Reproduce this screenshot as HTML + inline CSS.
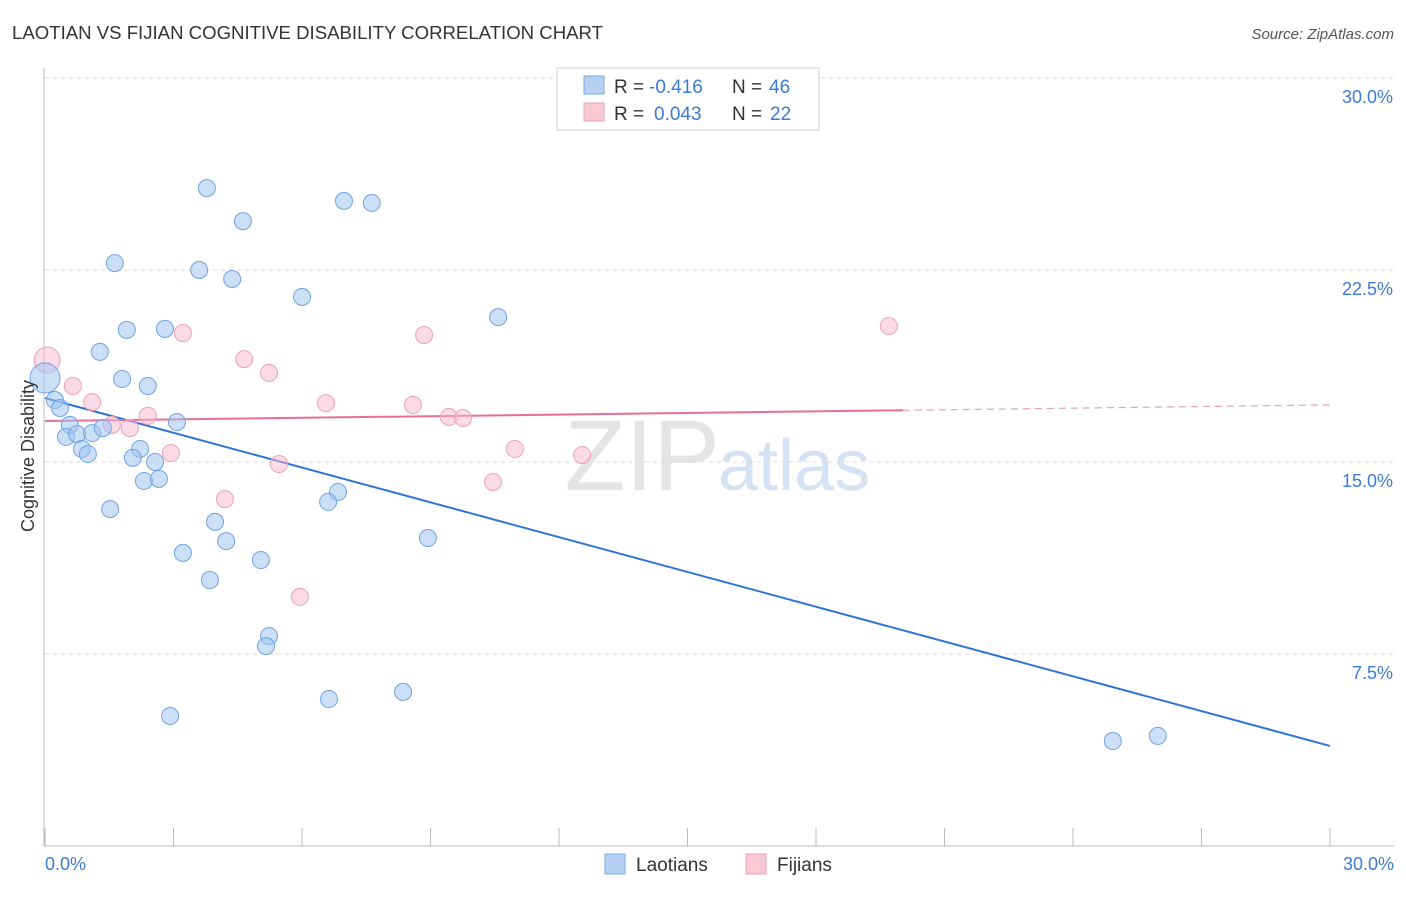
<!DOCTYPE html>
<html><head><meta charset="utf-8"><style>
body{margin:0;background:#fff;font-family:"Liberation Sans",sans-serif;}
svg text{font-family:"Liberation Sans",sans-serif;}
</style></head><body>
<svg id="chart" width="1406" height="892">
<text x="12" y="39" font-size="18.6" fill="#333">LAOTIAN VS FIJIAN COGNITIVE DISABILITY CORRELATION CHART</text>
<text x="1394" y="39" font-size="15" fill="#555" font-style="italic" text-anchor="end">Source: ZipAtlas.com</text>
<text x="720" y="490" font-size="100" fill="#e4e4e4" text-anchor="end" font-family="Liberation Serif">ZIP</text>
<text x="718" y="490" font-size="72" fill="#d5e2f3">atlas</text>
<g id="grid"></g>
<g id="axes"></g>
<g id="trends"></g>
<g id="points"></g>
<text x="34" y="456" font-size="18" fill="#333" text-anchor="middle" transform="rotate(-90 34 456)">Cognitive Disability</text>
<text x="45" y="870" font-size="18" fill="#3d7ad6">0.0%</text>
<text x="1394" y="870" font-size="18" fill="#3d7ad6" text-anchor="end">30.0%</text>
<g>
<rect x="557" y="68" width="262" height="62" fill="#fff" stroke="#ccc"/>
<rect x="584" y="76" width="20" height="18" fill="#b5d0f3" stroke="#7aaae6"/>
<rect x="584" y="103" width="20" height="18" fill="#f9c9d6" stroke="#f0a0b8"/>
<text x="614" y="93" font-size="19" fill="#333">R =</text>
<text x="649" y="93" font-size="19" fill="#3d7ad6">-0.416</text>
<text x="732" y="93" font-size="19" fill="#333">N =</text>
<text x="769" y="93" font-size="19" fill="#3d7ad6">46</text>
<text x="614" y="120" font-size="19" fill="#333">R =</text>
<text x="654" y="120" font-size="19" fill="#3d7ad6">0.043</text>
<text x="732" y="120" font-size="19" fill="#333">N =</text>
<text x="770" y="120" font-size="19" fill="#3d7ad6">22</text>
</g>
<g><rect x="605" y="854" width="20" height="20" fill="#b5d0f3" stroke="#7aaae6"/><text x="636" y="871" font-size="19" fill="#333">Laotians</text></g>
<g><rect x="746" y="854" width="20" height="20" fill="#f9c9d6" stroke="#f0a0b8"/><text x="777" y="871" font-size="19" fill="#333">Fijians</text></g>
</svg>
<script>
const yTicks=[7.5,15,22.5,30];
const yTickLabels=["7.5%","15.0%","22.5%","30.0%"];
const xTicks=[0,3,6,9,12,15,18,21,24,27,30];
const laoX=[3.78,4.62,6.98,7.63,1.63,3.60,4.37,6.00,1.91,2.80,10.58,1.28,1.80,2.40,0.23,0.35,0.58,0.49,0.75,1.10,1.35,3.08,0.86,1.00,2.22,2.05,2.57,2.31,2.66,6.84,6.61,1.52,3.97,4.23,8.94,3.22,5.04,3.85,5.23,5.16,8.36,6.63,2.92,24.93,25.98];
const laoY=[25.70,24.41,25.20,25.12,22.77,22.50,22.15,21.45,20.16,20.20,20.66,19.30,18.24,17.97,17.42,17.11,16.45,15.98,16.09,16.13,16.33,16.56,15.51,15.31,15.51,15.16,15.00,14.26,14.34,13.83,13.44,13.16,12.66,11.91,12.03,11.45,11.17,10.39,8.20,7.81,6.02,5.74,5.08,4.10,4.30];
const fijX=[0.65,1.10,1.56,1.98,2.40,3.22,4.65,5.23,2.94,4.20,5.46,5.95,6.56,8.59,8.85,9.43,9.76,10.46,10.97,12.54,19.70];
const fijY=[17.97,17.34,16.45,16.33,16.80,20.04,19.02,18.48,15.35,13.55,14.92,9.73,17.30,17.23,19.96,16.76,16.72,14.22,15.51,15.27,20.31];
const laoBig=[0,18.28];
const fijBig=[0.05,18.98];
const laoTrend=[17.5,3.91];
const fijTrend=[16.6,17.23];
const fijSolidEnd=20.03;
const X=v=>45+v/30*1285, Y=v=>846-v*25.6;
const NS="http://www.w3.org/2000/svg";
function mk(p,t,a){const e=document.createElementNS(NS,t);for(const k in a)e.setAttribute(k,a[k]);p.appendChild(e);return e;}
const grid=document.getElementById('grid'),axes=document.getElementById('axes'),tr=document.getElementById('trends'),pts=document.getElementById('points');
yTicks.forEach((t,i)=>{
 const l=mk(grid,'line',{x1:45,x2:1394,y1:Y(t),y2:Y(t),stroke:'#ddd','stroke-dasharray':'4 4'});
 
 
 const tx=mk(grid,'text',{x:1393,y:Y(t)+25,'font-size':18,fill:'#3d7ad6','text-anchor':'end'});
 tx.textContent=yTickLabels[i];
 
 
});
const ax=mk(axes,'line',{x1:44,x2:44,y1:68,y2:846,stroke:'#bbb'});


const bx=mk(axes,'line',{x1:44,x2:1394,y1:846,y2:846,stroke:'#bbb'});


xTicks.forEach(t=>{const l=mk(axes,'line',{x1:X(t),x2:X(t),y1:828,y2:846,stroke:'#bbb'});
 
 });
const bt=mk(tr,'line',{x1:X(0),y1:Y(laoTrend[0]),x2:X(30),y2:Y(laoTrend[1]),stroke:'#2f74d6','stroke-width':2});


const fy=v=>fijTrend[0]+(fijTrend[1]-fijTrend[0])*v/30;
const ft=mk(tr,'line',{x1:X(0),y1:Y(fy(0)),x2:X(fijSolidEnd),y2:Y(fy(fijSolidEnd)),stroke:'#e86d98','stroke-width':2});


const fd=mk(tr,'line',{x1:X(fijSolidEnd),y1:Y(fy(fijSolidEnd)),x2:X(30),y2:Y(fy(30)),stroke:'#e8a0b8','stroke-width':1.2,'stroke-dasharray':'7 5'});


function dot(x,y,r,blue){const c=mk(pts,'circle',{cx:X(x),cy:Y(y),r:r,fill:blue?'rgba(160,196,240,0.55)':'rgba(248,185,205,0.5)',stroke:blue?'#6fa2e4':'#eea0b8','stroke-width':1});return c;}
let c=dot(fijBig[0],fijBig[1],13,false);


c=dot(laoBig[0],laoBig[1],15,true);


fijX.forEach((x,i)=>{const d=dot(x,fijY[i],8.5,false);
 
 });
laoX.forEach((x,i)=>{const d=dot(x,laoY[i],8.5,true);
 
 });
</script>
</body></html>
